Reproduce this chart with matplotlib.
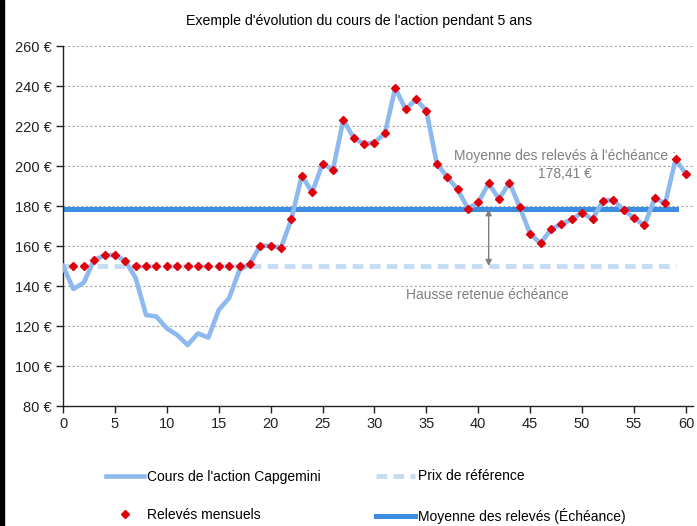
import matplotlib
matplotlib.use("Agg")
import matplotlib.pyplot as plt
from matplotlib.patches import Rectangle

plt.rcParams['font.family'] = ['Liberation Sans Narrow', 'Liberation Sans', 'DejaVu Sans']

# mois 0..60
mois = list(range(61))
cours = [150, 138.5, 141.7, 153, 155.3, 155.5, 152.5, 144, 125.5, 124.7,
         118.8, 115.5, 110.5, 116.3, 114.2, 128, 134, 148, 151, 160.2,
         160, 159.2, 173.5, 195.2, 186.8, 201.2, 198.2, 223, 214, 211,
         211.7, 216.3, 239, 228.3, 233.3, 227.7, 201.2, 194.5, 188.5, 178.7,
         181.8, 191.3, 183.5, 191.7, 179.3, 166, 161.3, 168.3, 171, 173.3,
         176.7, 173.3, 182.7, 183, 178, 174, 170.3, 184, 181.3, 203.3,
         196]
prix_ref = 150
moyenne = 178.41
fin_lignes = 59
mois_fleche = 41

# releves mensuels : cours plancher au prix de reference
mois_releves = mois[1:]
releves = [max(c, prix_ref) for c in cours[1:]]

fig = plt.figure(figsize=(6.97, 5.26), dpi=100)
ax = fig.add_axes([63/697, 1-406/526, (692.7-63)/697, 360/526])

ax.plot(mois, cours, color='#8DB9EE', lw=3.3, solid_joinstyle='round',
        label="Cours de l'action Capgemini", zorder=3)
ax.plot([0, fin_lignes], [prix_ref, prix_ref], color='#C6DCF5', lw=3.5,
        dashes=(2.2, 1.3), label='Prix de référence', zorder=2)
ax.plot([0, fin_lignes], [moyenne, moyenne], color='#3A8DE0', lw=3.6,
        label='Moyenne des relevés (Échéance)', zorder=2)
ax.plot(mois_releves, releves, ls='none', marker='D', ms=4.0, color='#E0000B',
        label='Relevés mensuels', zorder=4)

ax.annotate('', xy=(mois_fleche, prix_ref), xytext=(mois_fleche, moyenne),
            arrowprops=dict(arrowstyle='<|-|>', color='#7F7F7F', lw=1.0,
                            mutation_scale=9, shrinkA=0, shrinkB=0))
ax.text(48.3, 200.5, "Moyenne des relevés à l'échéance :\n178,41 €", ha='center',
        va='center', color='#7F7F7F', fontsize=10, linespacing=1.35)
ax.text(40.9, 135.5, 'Hausse retenue échéance', ha='center', va='center',
        color='#7F7F7F', fontsize=10)

ax.set_xlim(0, 60.65)
ax.set_ylim(80, 260)
ax.set_xticks(range(0, 61, 5))
ax.set_yticks(range(80, 261, 20))
ax.set_yticklabels([f'{v} €' for v in range(80, 261, 20)])
for v in range(100, 261, 20):
    ax.axhline(v, color='#A6A6A6', lw=0.8, ls=(0, (2, 2)), zorder=1)
for s in ['top', 'right']:
    ax.spines[s].set_visible(False)
for s in ['left', 'bottom']:
    ax.spines[s].set_linewidth(1.0)
    ax.spines[s].set_color('#222222')
ax.tick_params(length=5, width=1, labelsize=10.5, colors='#222222', pad=3)

fig.text(0.515, 0.96, "Exemple d'évolution du cours de l'action pendant 5 ans",
         ha='center', va='center', fontsize=10.2)

h, l = ax.get_legend_handles_labels()
ordre = [0, 3, 1, 2]
fig.legend([h[i] for i in ordre], [l[i] for i in ordre], ncol=2,
           loc='upper left', bbox_to_anchor=(93/697, 1-457/526), frameon=False,
           fontsize=10, handlelength=2.8, handletextpad=0.2, columnspacing=4.0,
           labelspacing=1.75)

fig.add_artist(Rectangle((0, 0), 4/697, 1, transform=fig.transFigure,
                         color='black', zorder=10))

fig.savefig('out.png', dpi=100)
